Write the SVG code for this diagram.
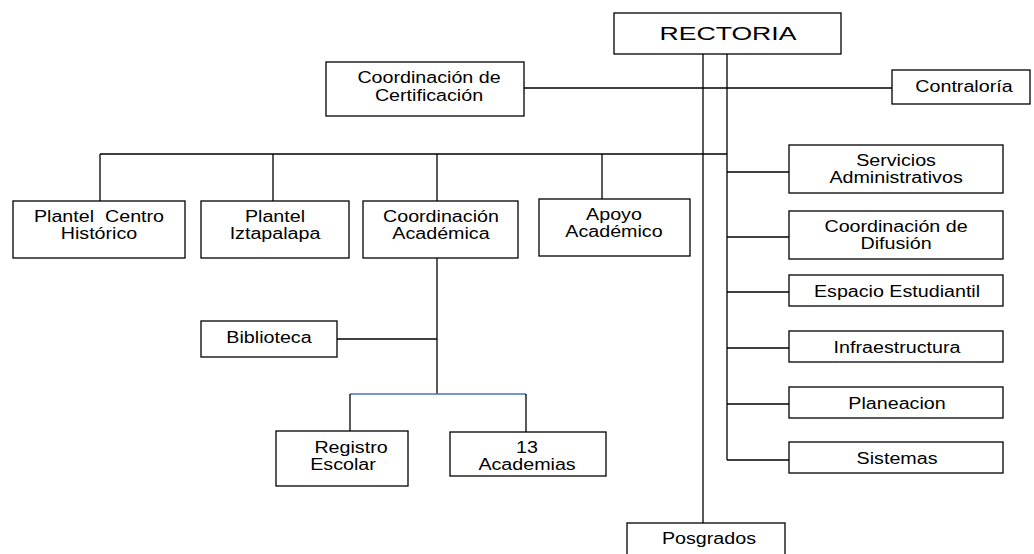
<svg xmlns="http://www.w3.org/2000/svg" width="1034" height="554" viewBox="0 0 1034 554">
<style>
.box{fill:#fff;stroke:#000;stroke-width:1.3}
.t{font-family:"Liberation Sans",Arial,sans-serif;font-size:16px;fill:#000;text-anchor:middle;white-space:pre}
.big{font-size:19px}
.c{stroke:#000;stroke-width:1.3;fill:none}
.blue{stroke:#4472c4;stroke-width:1.3;fill:none}
</style>
<rect width="1034" height="554" fill="#fff"/>
<g id="connectors">
<line class="c" x1="703" y1="54" x2="703" y2="523"/>
<line class="c" x1="727" y1="54" x2="727" y2="460"/>
<line class="c" x1="524" y1="88" x2="892" y2="88"/>
<line class="c" x1="100" y1="154" x2="727" y2="154"/>
<line class="c" x1="100" y1="154" x2="100" y2="201"/>
<line class="c" x1="273" y1="154" x2="273" y2="201"/>
<line class="c" x1="437" y1="154" x2="437" y2="201"/>
<line class="c" x1="602" y1="154" x2="602" y2="199"/>
<line class="c" x1="727" y1="172" x2="789" y2="172"/>
<line class="c" x1="727" y1="237" x2="789" y2="237"/>
<line class="c" x1="727" y1="292" x2="789" y2="292"/>
<line class="c" x1="727" y1="348" x2="789" y2="348"/>
<line class="c" x1="727" y1="404" x2="789" y2="404"/>
<line class="c" x1="727" y1="460" x2="789" y2="460"/>
<line class="c" x1="437" y1="258" x2="437" y2="394"/>
<line class="c" x1="337" y1="339" x2="437" y2="339"/>
<line class="blue" x1="350" y1="394" x2="526" y2="394"/>
<line class="c" x1="350" y1="394" x2="350" y2="431"/>
<line class="c" x1="526" y1="394" x2="526" y2="432"/>
</g>
<g id="rectoria"><rect class="box" x="614" y="13" width="227" height="41"/><text class="t big" transform="scale(1.4,1)" x="520" y="40">RECTORIA</text></g>
<g id="contraloria"><rect class="box" x="892" y="70" width="138" height="34"/><text class="t" transform="scale(1.23,1)" x="783.7" y="92">Contraloría</text></g>
<g id="coord-cert"><rect class="box" x="326" y="62" width="198" height="54"/><g transform="scale(1.23,1)"><text class="t" x="348.8" y="83">Coordinación de</text><text class="t" x="348.8" y="101">Certificación</text></g></g>
<g id="plantel-centro"><rect class="box" x="13" y="201" width="172" height="57"/><g transform="scale(1.23,1)"><text class="t" x="80.5" y="222">Plantel  Centro</text><text class="t" x="80.5" y="239">Histórico</text></g></g>
<g id="plantel-iztapalapa"><rect class="box" x="201" y="201" width="148" height="57"/><g transform="scale(1.23,1)"><text class="t" x="223.6" y="222">Plantel</text><text class="t" x="223.6" y="239">Iztapalapa</text></g></g>
<g id="coord-academica"><rect class="box" x="363" y="201" width="155" height="57"/><g transform="scale(1.23,1)"><text class="t" x="358.5" y="222">Coordinación</text><text class="t" x="358.5" y="239">Académica</text></g></g>
<g id="apoyo"><rect class="box" x="539" y="199" width="151" height="57"/><g transform="scale(1.23,1)"><text class="t" x="499.2" y="220">Apoyo</text><text class="t" x="499.2" y="237">Académico</text></g></g>
<g id="servicios"><rect class="box" x="789" y="145" width="214" height="48"/><g transform="scale(1.23,1)"><text class="t" x="728.5" y="166">Servicios</text><text class="t" x="728.5" y="183">Administrativos</text></g></g>
<g id="difusion"><rect class="box" x="789" y="211" width="214" height="48"/><g transform="scale(1.23,1)"><text class="t" x="728.5" y="232">Coordinación de</text><text class="t" x="728.5" y="249">Difusión</text></g></g>
<g id="espacio"><rect class="box" x="789" y="275" width="214" height="31"/><text class="t" transform="scale(1.23,1)" x="729.3" y="297">Espacio Estudiantil</text></g>
<g id="infra"><rect class="box" x="789" y="331" width="214" height="31"/><text class="t" transform="scale(1.23,1)" x="729.3" y="353">Infraestructura</text></g>
<g id="planeacion"><rect class="box" x="789" y="387" width="214" height="31"/><text class="t" transform="scale(1.23,1)" x="729.3" y="409">Planeacion</text></g>
<g id="sistemas"><rect class="box" x="789" y="442" width="214" height="31"/><text class="t" transform="scale(1.23,1)" x="729.3" y="464">Sistemas</text></g>
<g id="biblioteca"><rect class="box" x="201" y="321" width="136" height="36"/><text class="t" transform="scale(1.23,1)" x="218.7" y="343">Biblioteca</text></g>
<g id="registro"><rect class="box" x="276" y="431" width="132" height="55"/><g transform="scale(1.23,1)"><text class="t" x="285.4" y="453">Registro</text><text class="t" x="278.9" y="470">Escolar</text></g></g>
<g id="academias"><rect class="box" x="450" y="432" width="156" height="44"/><g transform="scale(1.23,1)"><text class="t" x="428.5" y="453">13</text><text class="t" x="428.5" y="470">Academias</text></g></g>
<g id="posgrados"><rect class="box" x="627" y="523" width="158" height="40"/><text class="t" transform="scale(1.23,1)" x="576.4" y="544">Posgrados</text></g>
</svg>
